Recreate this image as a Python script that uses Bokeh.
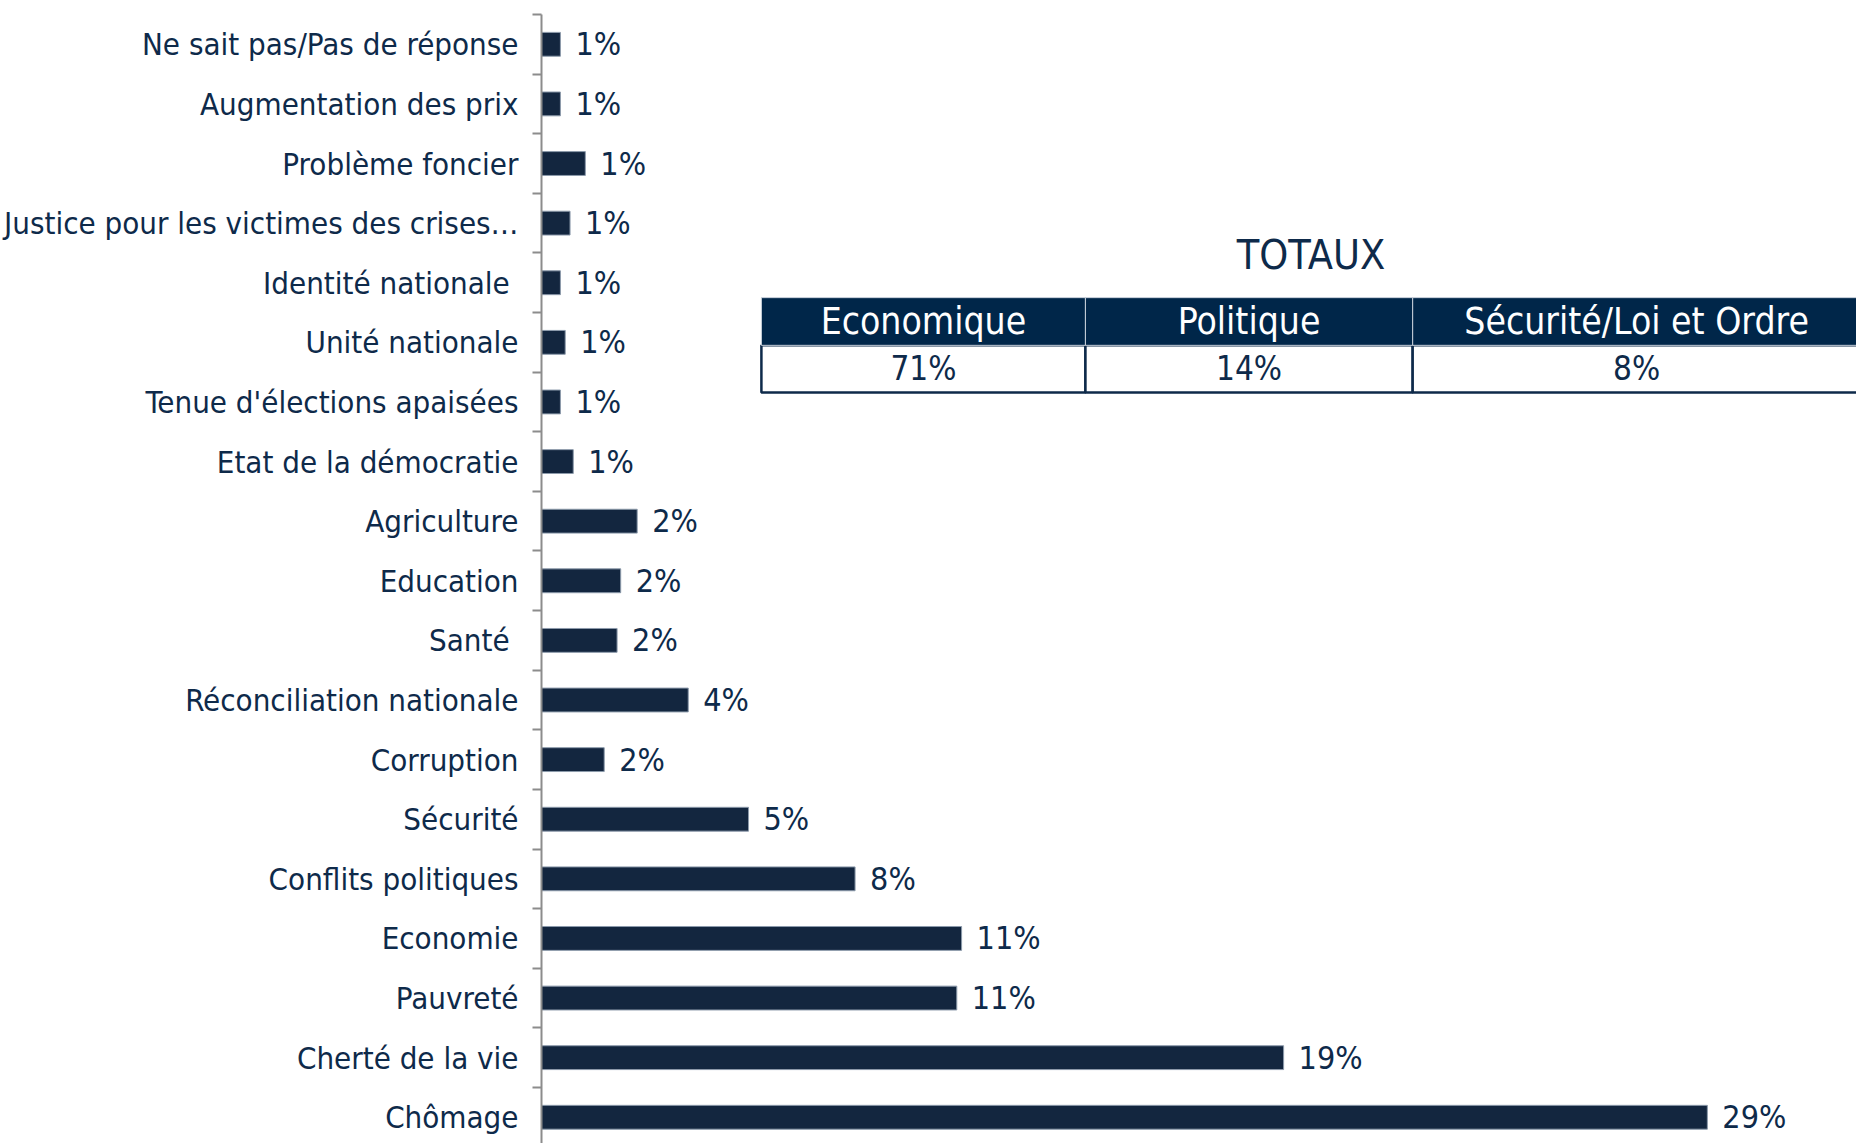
from bokeh.plotting import figure
from bokeh.models import Range1d, FixedTicker, ColumnDataSource, LabelSet
from bokeh.core.properties import value
from bokeh.embed import file_html
from bokeh.resources import INLINE

# ---- data (top to bottom as shown) ----
categories = [
    "Ne sait pas/Pas de réponse",
    "Augmentation des prix",
    "Problème foncier",
    "Justice pour les victimes des crises…",
    "Identité nationale ",
    "Unité nationale",
    "Tenue d'élections apaisées",
    "Etat de la démocratie",
    "Agriculture",
    "Education",
    "Santé ",
    "Réconciliation nationale",
    "Corruption",
    "Sécurité",
    "Conflits politiques",
    "Economie",
    "Pauvreté",
    "Cherté de la vie",
    "Chômage",
]
values = [0.47, 0.47, 1.09, 0.71, 0.47, 0.59, 0.47, 0.79, 2.38, 1.97, 1.88,
          3.65, 1.56, 5.15, 7.8, 10.45, 10.33, 18.46, 29.0]
value_labels = ["1%", "1%", "1%", "1%", "1%", "1%", "1%", "1%", "2%", "2%", "2%",
                "4%", "2%", "5%", "8%", "11%", "11%", "19%", "29%"]

totals_title = "TOTAUX"
totals_categories = ["Economique", "Politique", "Sécurité/Loi et Ordre"]
totals_values = ["71%", "14%", "8%"]

FONT = "DejaVu Sans Condensed"
NAVY = "#0e2a4a"
BAR = "#13263f"
HEAD = "#002649"

n = len(categories)
ys = [n - 1 - i for i in range(n)]

src = ColumnDataSource(dict(y=ys, v=values, lab=value_labels, cat=categories))

p = figure(width=1856, height=1143, output_backend="svg", toolbar_location=None,
           x_range=Range1d(0, 32.71), y_range=Range1d(-0.44, n - 0.5),
           min_border_left=541, min_border_right=0, min_border_top=14,
           min_border_bottom=0, outline_line_color=None)
p.xaxis.visible = False
p.xgrid.visible = False
p.ygrid.visible = False

ax = p.yaxis[0]
ax.ticker = FixedTicker(ticks=ys, minor_ticks=[k + 0.5 for k in range(-1, n)])
ax.major_label_overrides = {y: c for y, c in zip(ys, categories)}
ax.major_tick_out = 0
ax.major_tick_in = 0
ax.minor_tick_out = 9
ax.minor_tick_in = 0
ax.minor_tick_line_color = "#8c8c8c"
ax.minor_tick_line_width = 2
ax.axis_line_color = "#8c8c8c"
ax.axis_line_width = 2
ax.major_label_standoff = 14
ax.major_label_text_font = FONT
ax.major_label_text_font_size = "31px"
ax.major_label_text_color = NAVY

p.hbar(y="y", right="v", left=0, height=0.4, source=src,
       fill_color=BAR, line_color="#8c9aab", line_width=1)

p.add_layout(LabelSet(x="v", y="y", text="lab", source=src, x_offset=15,
                      text_baseline="middle", text_align="left",
                      text_font=value(FONT), text_font_size="32px",
                      text_color=NAVY))

# ---- totals table (layout positions in data units) ----
col_edges = [5.47, 13.53, 21.67, 32.81]
y_head_top, y_head_bot, y_row_bot = 13.75, 12.95, 12.16
lefts = col_edges[:-1]
rights = col_edges[1:]
centers = [(a + b) / 2 for a, b in zip(lefts, rights)]

tsrc = ColumnDataSource(dict(left=lefts, right=rights, cx=centers,
                             cat=totals_categories, val=totals_values))

p.quad(left="left", right="right", top=y_head_bot,
       bottom=y_row_bot, source=tsrc, fill_color="white",
       line_color=NAVY, line_width=2.5)
p.quad(left="left", right="right", top=y_head_top, bottom=y_head_bot,
       source=tsrc, fill_color=HEAD, line_color="#c8d0da", line_width=1)

p.text(x="cx", y=(y_head_top + y_head_bot) / 2, text="cat", source=tsrc,
       text_align="center", text_baseline="middle", text_font=value(FONT),
       text_font_size="37px", text_color="white")
p.text(x="cx", y=(y_head_bot + y_row_bot) / 2, text="val", source=tsrc,
       text_align="center", text_baseline="middle", text_font=value(FONT),
       text_font_size="33px", text_color=NAVY)
p.text(x=[(col_edges[0] + col_edges[-1]) / 2], y=[14.47], text=[totals_title],
       text_align="center", text_baseline="middle", text_font=value(FONT),
       text_font_size="41px", text_color=NAVY)

open("out.html", "w").write(file_html(p, INLINE))
